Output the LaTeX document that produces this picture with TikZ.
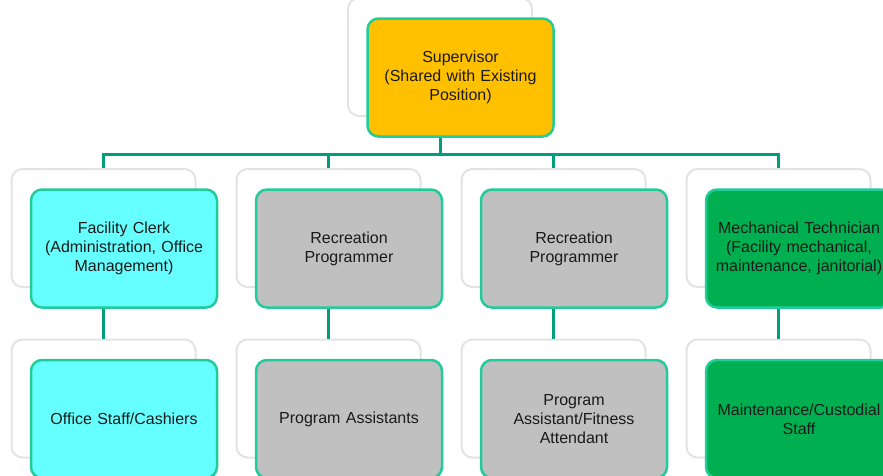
\documentclass[tikz,border=0pt]{standalone}
\usepackage{fontspec}
\setmainfont{Liberation Sans}
\definecolor{supfill}{HTML}{FFC000}
\definecolor{cyanfill}{HTML}{66FFFF}
\definecolor{greyfill}{HTML}{C0C0C0}
\definecolor{greenfill}{HTML}{00B050}
\definecolor{boxline}{HTML}{22CC99}
\definecolor{connc}{HTML}{009E7A}
\definecolor{ghostline}{HTML}{E3E3E3}
\definecolor{txt}{HTML}{1A1A1A}
\begin{document}
\begin{tikzpicture}[x=1pt,y=-1pt,
  box/.style={draw=boxline, line width=2.5pt, rounded corners=11pt,
    minimum width=186pt, minimum height=118pt, align=center, text width=180pt,
    font=\fontsize{16}{19}\selectfont, text=txt, inner sep=0pt},
  ghost/.style={draw=ghostline, fill=white, line width=2pt, rounded corners=11pt,
    minimum width=184pt, minimum height=118pt, inner sep=0pt},
  conn/.style={draw=connc, line width=3pt}]
\useasboundingbox (0,0) rectangle (883,475);
\clip (0,0) rectangle (883,475);
% ghost boxes
\node[ghost] (gS) at (440,57) {};
\node[ghost] (gA) at (103.5,228) {};
\node[ghost] (gB) at (328.5,228) {};
\node[ghost] (gC) at (553.5,228) {};
\node[ghost] (gD) at (778.5,228) {};
\node[ghost] (gA2) at (103.5,398.5) {};
\node[ghost] (gB2) at (328.5,398.5) {};
\node[ghost] (gC2) at (553.5,398.5) {};
\node[ghost] (gD2) at (778.5,398.5) {};
% connectors
\draw[conn] (gS.south) -- ++(0,37) -| (gA.north);
\draw[conn] (gS.south) -- ++(0,37) -| (gB.north);
\draw[conn] (gS.south) -- ++(0,37) -| (gC.north);
\draw[conn] (gS.south) -- ++(0,37) -| (gD.north);
\draw[conn] (gA.south) -- (gA2.north);
\draw[conn] (gB.south) -- (gB2.north);
\draw[conn] (gC.south) -- (gC2.north);
\draw[conn] (gD.south) -- (gD2.north);
% boxes
\node[box, fill=supfill] (S) at (460.5,77.5) {Supervisor\\(Shared with Existing\\Position)};
\node[box, fill=cyanfill] (A) at (124,248.5) {Facility Clerk\\(Administration, Office\\Management)};
\node[box, fill=greyfill] (B) at (349,248.5) {Recreation\\Programmer};
\node[box, fill=greyfill] (C) at (574,248.5) {Recreation\\Programmer};
\node[box, fill=greenfill] (D) at (799,248.5) {Mechanical Technician\\(Facility mechanical,\\maintenance, janitorial)};
\node[box, fill=cyanfill] (A2) at (124,419) {Office Staff/Cashiers};
\node[box, fill=greyfill] (B2) at (349,419) {Program Assistants};
\node[box, fill=greyfill] (C2) at (574,419) {Program\\Assistant/Fitness\\Attendant};
\node[box, fill=greenfill] (D2) at (799,419) {Maintenance/Custodial\\Staff};
\end{tikzpicture}
\end{document}
